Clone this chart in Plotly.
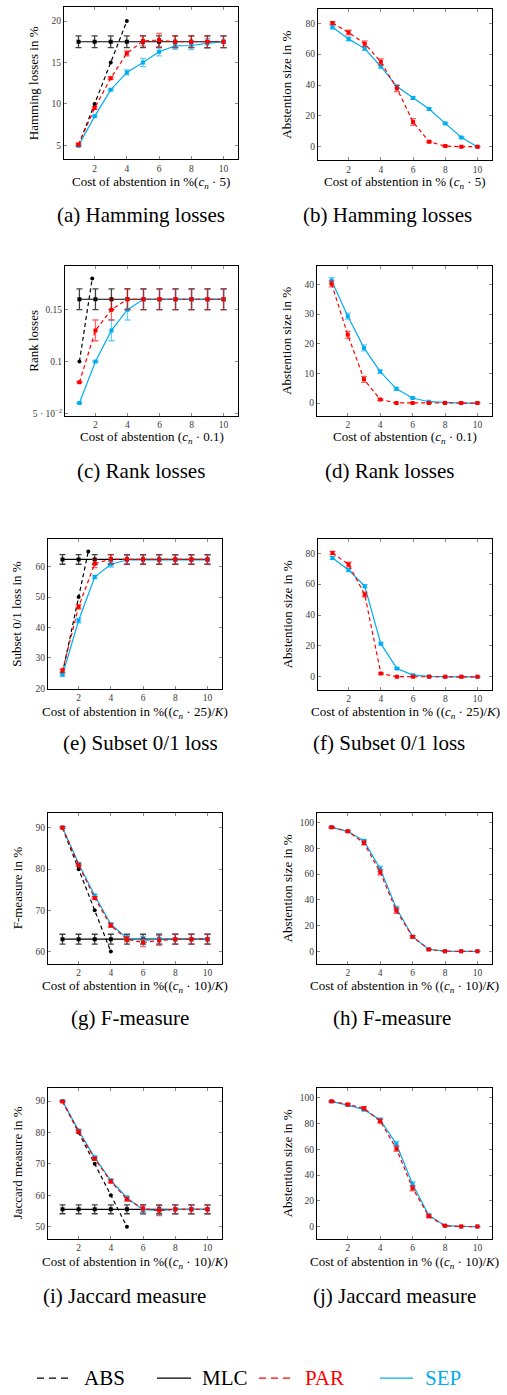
import plotly.graph_objects as go

W, H = 507, 1395
FONT = "Liberation Serif"
BLACK = "#000000"
RED = "#ff0000"
CYAN = "#00aeef"

X = [1, 2, 3, 4, 5, 6, 7, 8, 9, 10]

# ---------------- Hamming loss ----------------
ham_abs_x = [1, 2, 3, 4]
ham_abs = [5, 10, 15, 20]
ham_mlc = [17.5, 17.5, 17.5, 17.5, 17.5, 17.5, 17.5, 17.5, 17.5, 17.5]
ham_mlc_err = [0.7, 0.7, 0.7, 0.7, 0.7, 0.7, 0.7, 0.7, 0.7, 0.7]
ham_par = [5.1, 9.5, 13.1, 16.1, 17.6, 17.7, 17.5, 17.5, 17.5, 17.5]
ham_par_err = [0.15, 0.15, 0.15, 0.3, 0.6, 0.8, 0.7, 0.7, 0.7, 0.7]
ham_sep = [4.95, 8.5, 11.7, 13.8, 15.0, 16.3, 17.0, 17.05, 17.3, 17.5]
ham_sep_err = [0.1, 0.1, 0.1, 0.3, 0.5, 0.5, 0.4, 0.5, 0.6, 0.7]

ham_abst_par = [80.2, 74.0, 66.8, 55.0, 37.7, 16.0, 3.2, 0.4, 0.0, 0.0]
ham_abst_par_err = [0.8, 1.5, 1.8, 2.0, 2.0, 2.2, 0.5, 0.3, 0.2, 0.0]
ham_abst_sep = [77.4, 69.9, 63.6, 52.0, 39.0, 31.5, 24.4, 15.1, 6.0, 0.0]
ham_abst_sep_err = [1.0, 1.2, 1.2, 1.0, 0.8, 0.8, 0.8, 0.6, 0.5, 0.0]

# ---------------- Rank loss ----------------
rank_abs_x = [1, 1.8]
rank_abs = [0.10, 0.18]
rank_mlc = [0.16, 0.16, 0.16, 0.16, 0.16, 0.16, 0.16, 0.16, 0.16, 0.16]
rank_mlc_err = [0.01, 0.01, 0.01, 0.01, 0.01, 0.01, 0.01, 0.01, 0.01, 0.01]
rank_par = [0.08, 0.13, 0.15, 0.16, 0.16, 0.16, 0.16, 0.16, 0.16, 0.16]
rank_par_err = [0.0005, 0.01, 0.01, 0.01, 0.01, 0.01, 0.01, 0.01, 0.01, 0.01]
rank_sep = [0.06, 0.10, 0.13, 0.15, 0.16, 0.16, 0.16, 0.16, 0.16, 0.16]
rank_sep_err = [0.0005, 0.0005, 0.01, 0.01, 0.01, 0.01, 0.01, 0.01, 0.01, 0.01]

rank_abst_par = [40.2, 23.0, 8.0, 1.2, 0.05, 0.0, 0.0, 0.0, 0.0, 0.0]
rank_abst_par_err = [1.0, 1.2, 1.0, 0.3, 0.0, 0.0, 0.0, 0.0, 0.0, 0.0]
rank_abst_sep = [41.3, 29.3, 18.6, 10.6, 4.8, 1.7, 0.45, 0.1, 0.0, 0.0]
rank_abst_sep_err = [1.0, 1.0, 1.0, 0.6, 0.4, 0.3, 0.1, 0.0, 0.0, 0.0]

# ---------------- Subset 0/1 loss ----------------
sub_abs_x = [1, 2, 2.6]
sub_abs = [25, 50, 65]
sub_mlc = [62.4, 62.4, 62.4, 62.4, 62.4, 62.4, 62.4, 62.4, 62.4, 62.4]
sub_mlc_err = [1.6, 1.6, 1.6, 1.6, 1.6, 1.6, 1.6, 1.6, 1.6, 1.6]
sub_par = [25.8, 46.8, 61.0, 62.5, 62.4, 62.4, 62.4, 62.4, 62.4, 62.4]
sub_par_err = [0.5, 0.7, 1.3, 1.5, 1.6, 1.6, 1.6, 1.6, 1.6, 1.6]
sub_sep = [24.4, 42.3, 56.6, 60.8, 62.2, 62.2, 62.2, 62.2, 62.2, 62.2]
sub_sep_err = [0.4, 0.8, 0.5, 0.9, 1.5, 1.5, 1.5, 1.5, 1.5, 1.5]

sub_abst_par = [80.2, 72.7, 53.3, 2.2, 0.1, 0.0, 0.0, 0.0, 0.0, 0.0]
sub_abst_par_err = [1.0, 1.5, 1.5, 0.5, 0.0, 0.0, 0.0, 0.0, 0.0, 0.0]
sub_abst_sep = [77.0, 69.2, 58.7, 21.5, 5.4, 1.1, 0.3, 0.0, 0.0, 0.0]
sub_abst_sep_err = [1.0, 1.0, 1.0, 0.8, 0.5, 0.3, 0.1, 0.0, 0.0, 0.0]

# ---------------- F-measure ----------------
f_abs_x = [1, 2, 3, 4]
f_abs = [90, 80, 70, 60]
f_mlc = [63.0, 63.0, 63.0, 63.0, 63.0, 63.0, 63.0, 63.0, 63.0, 63.0]
f_mlc_err = [1.2, 1.2, 1.2, 1.2, 1.2, 1.2, 1.2, 1.2, 1.2, 1.2]
f_par = [90.1, 81.0, 73.0, 66.3, 63.0, 62.2, 62.7, 63.0, 63.0, 63.0]
f_par_err = [0.2, 0.3, 0.3, 0.4, 0.6, 1.0, 1.2, 1.2, 1.2, 1.2]
f_sep = [90.1, 81.3, 73.6, 66.6, 63.3, 62.7, 63.0, 63.0, 63.0, 63.0]
f_sep_err = [0.2, 0.3, 0.3, 0.4, 0.6, 1.0, 1.2, 1.2, 1.2, 1.2]

f_abst_par = [96.4, 93.3, 84.3, 61.5, 31.5, 11.3, 1.4, 0.1, 0.0, 0.0]
f_abst_par_err = [0.5, 0.6, 1.5, 2.0, 2.0, 0.8, 0.3, 0.0, 0.0, 0.0]
f_abst_sep = [96.4, 93.3, 85.8, 64.2, 33.5, 11.4, 1.6, 0.1, 0.0, 0.0]
f_abst_sep_err = [0.5, 0.6, 1.2, 2.0, 1.5, 0.8, 0.3, 0.0, 0.0, 0.0]

# ---------------- Jaccard measure ----------------
j_abs_x = [1, 2, 3, 4, 5]
j_abs = [90, 80, 70, 60, 50]
j_mlc = [55.5, 55.5, 55.5, 55.5, 55.5, 55.5, 55.5, 55.5, 55.5, 55.5]
j_mlc_err = [1.4, 1.4, 1.4, 1.4, 1.4, 1.4, 1.4, 1.4, 1.4, 1.4]
j_par = [89.9, 80.3, 71.6, 64.4, 58.7, 55.8, 55.1, 55.5, 55.5, 55.5]
j_par_err = [0.2, 0.4, 0.5, 0.5, 0.6, 1.2, 1.6, 1.4, 1.4, 1.4]
j_sep = [90.0, 80.6, 72.0, 64.7, 59.2, 55.4, 55.2, 55.5, 55.5, 55.5]
j_sep_err = [0.2, 0.4, 0.5, 0.5, 0.6, 1.2, 1.4, 1.4, 1.4, 1.4]

j_abst_par = [97.2, 94.8, 91.8, 81.8, 60.5, 29.8, 8.0, 0.6, 0.1, 0.0]
j_abst_par_err = [0.5, 0.8, 1.2, 1.5, 2.2, 2.0, 1.0, 0.3, 0.0, 0.0]
j_abst_sep = [97.0, 94.3, 90.8, 82.8, 64.0, 32.8, 8.8, 0.7, 0.1, 0.0]
j_abst_sep_err = [0.5, 0.8, 1.2, 1.5, 2.2, 2.0, 1.0, 0.3, 0.0, 0.0]

# ---------------- tick labels ----------------
x_ticks = [2, 4, 6, 8, 10]
x_ticklabels = ["2", "4", "6", "8", "10"]
rank_ticks = [0.05, 0.1, 0.15]
rank_ticklabels = ["5 · 10<sup>−2</sup>", "0.1", "0.15"]

XL_HAM_L = "Cost of abstention in %(<i>c<sub>n</sub></i> · 5)"
XL_HAM_R = "Cost of abstention in % (<i>c<sub>n</sub></i> · 5)"
XL_RANK = "Cost of abstention (<i>c<sub>n</sub></i> · 0.1)"
XL_SUB_L = "Cost of abstention in %((<i>c<sub>n</sub></i> · 25)/<i>K</i>)"
XL_SUB_R = "Cost of abstention in % ((<i>c<sub>n</sub></i> · 25)/<i>K</i>)"
XL_F_L = "Cost of abstention in %((<i>c<sub>n</sub></i> · 10)/<i>K</i>)"
XL_F_R = "Cost of abstention in % ((<i>c<sub>n</sub></i> · 10)/<i>K</i>)"
ABST = "Abstention size in %"

# panel layout: box in pixels (left, right, top, bottom)
panels = [
    dict(box=(64, 238, 7, 160), yr=(3.3, 21.7), yt=[5, 10, 15, 20], ylab="Hamming losses in %",
         ylx=33, xlab=XL_HAM_L, xly=183, cap="(a) Hamming losses", capx=141, capy=216,
         abs=(ham_abs_x, ham_abs), mlc=(ham_mlc, ham_mlc_err),
         par=(ham_par, ham_par_err), sep=(ham_sep, ham_sep_err)),
    dict(box=(318, 492, 9, 161), yr=(-8.9, 89.3), yt=[0, 20, 40, 60, 80], ylab=ABST,
         ylx=287, xlab=XL_HAM_R, xly=183, cap="(b) Hamming losses", capx=387, capy=216,
         par=(ham_abst_par, ham_abst_par_err), sep=(ham_abst_sep, ham_abst_sep_err)),
    dict(box=(65, 238, 267, 417), yr=(0.048, 0.192), yt=rank_ticks, ytt=rank_ticklabels,
         ylab="Rank losses", ylx=34, xlab=XL_RANK, xly=439, cap="(c) Rank losses", capx=141, capy=473,
         abs=(rank_abs_x, rank_abs), mlc=(rank_mlc, rank_mlc_err),
         par=(rank_par, rank_par_err), sep=(rank_sep, rank_sep_err)),
    dict(box=(317, 492, 267, 417), yr=(-4.2, 46.2), yt=[0, 10, 20, 30, 40], ylab=ABST,
         ylx=287, xlab=XL_RANK, xly=439, cap="(d) Rank losses", capx=390, capy=473,
         par=(rank_abst_par, rank_abst_par_err), sep=(rank_abst_sep, rank_abst_sep_err)),
    dict(box=(48, 222, 541, 691), yr=(19.9, 69.1), yt=[20, 30, 40, 50, 60], ylab="Subset 0/1 loss in %",
         ylx=17, xlab=XL_SUB_L, xly=715, cap="(e) Subset 0/1 loss", capx=140, capy=746,
         abs=(sub_abs_x, sub_abs), mlc=(sub_mlc, sub_mlc_err),
         par=(sub_par, sub_par_err), sep=(sub_sep, sub_sep_err)),
    dict(box=(318, 492, 541, 692), yr=(-8.2, 89.2), yt=[0, 20, 40, 60, 80], ylab=ABST,
         ylx=287, xlab=XL_SUB_R, xly=715, cap="(f) Subset 0/1 loss", capx=389, capy=746,
         par=(sub_abst_par, sub_abst_par_err), sep=(sub_abst_sep, sub_abst_sep_err)),
    dict(box=(48, 222, 816, 967), yr=(57.1, 93.6), yt=[60, 70, 80, 90], ylab="F-measure in %",
         ylx=17, xlab=XL_F_L, xly=990, cap="(g) F-measure", capx=130, capy=1022,
         abs=(f_abs_x, f_abs), mlc=(f_mlc, f_mlc_err),
         par=(f_par, f_par_err), sep=(f_sep, f_sep_err)),
    dict(box=(317, 492, 816, 967), yr=(-9.5, 107.5), yt=[0, 20, 40, 60, 80, 100], ylab=ABST,
         ylx=287, xlab=XL_F_R, xly=990, cap="(h) F-measure", capx=392, capy=1022,
         par=(f_abst_par, f_abst_par_err), sep=(f_abst_sep, f_abst_sep_err)),
    dict(box=(48, 222, 1092, 1243), yr=(46.2, 94.15), yt=[50, 60, 70, 80, 90], ylab="Jaccard measure in %",
         ylx=17, xlab=XL_F_L, xly=1267, cap="(i) Jaccard measure", capx=124, capy=1301,
         abs=(j_abs_x, j_abs), mlc=(j_mlc, j_mlc_err),
         par=(j_par, j_par_err), sep=(j_sep, j_sep_err)),
    dict(box=(317, 492, 1092, 1243), yr=(-9.3, 107.5), yt=[0, 20, 40, 60, 80, 100], ylab=ABST,
         ylx=287, xlab=XL_F_R, xly=1267, cap="(j) Jaccard measure", capx=394, capy=1301,
         par=(j_abst_par, j_abst_par_err), sep=(j_abst_sep, j_abst_sep_err)),
]


def fx(px):
    return px / W


def fy(py):
    return 1 - py / H


fig = go.Figure()
annotations = []
layout = {}


def add_series(xs, ys, err, color, err_color, dash, symbol, xa, ya):
    tr = go.Scatter(
        x=xs, y=ys, mode="lines+markers", xaxis=xa, yaxis=ya, showlegend=False,
        line=dict(color=color, width=1.2, dash=dash),
        marker=dict(symbol=symbol, size=4, color=color, line=dict(width=0)),
        hoverinfo="skip",
    )
    if err is not None:
        tr.error_y = dict(type="data", array=err, visible=True, color=err_color,
                          thickness=1.3, width=3)
    fig.add_trace(tr)


for i, p in enumerate(panels, start=1):
    sfx = "" if i == 1 else str(i)
    xa, ya = "x" + sfx, "y" + sfx
    l, r, t, b = p["box"]
    common = dict(showline=True, linecolor=BLACK, linewidth=1, mirror="allticks",
                  ticks="inside", ticklen=3, tickwidth=0.8, tickcolor="#8a8a8a",
                  showgrid=False, zeroline=False,
                  tickfont=dict(family=FONT, size=9.5, color="#3a3a3a"))
    layout["xaxis" + sfx] = dict(domain=[fx(l), fx(r)], anchor=ya, range=[0.1, 10.9],
                                 tickmode="array", tickvals=x_ticks, ticktext=x_ticklabels, **common)
    yax = dict(domain=[fy(b), fy(t)], anchor=xa, range=list(p["yr"]),
               tickmode="array", tickvals=p["yt"], **common)
    if "ytt" in p:
        yax["ticktext"] = p["ytt"]
    layout["yaxis" + sfx] = yax

    if "mlc" in p:
        add_series(X, p["mlc"][0], p["mlc"][1], BLACK, "rgba(0,0,0,0.75)", "solid", "square", xa, ya)
    if "abs" in p:
        add_series(p["abs"][0], p["abs"][1], None, BLACK, None, "4px,3px", "circle", xa, ya)
    add_series(X, p["sep"][0], p["sep"][1], CYAN, "rgba(0,174,239,0.6)", "solid", "square", xa, ya)
    add_series(X, p["par"][0], p["par"][1], RED, "rgba(255,0,0,0.6)", "4px,3px", "square", xa, ya)

    # axis titles and caption
    annotations.append(dict(text=p["ylab"], x=fx(p["ylx"]), y=fy((t + b) / 2), xref="paper", yref="paper",
                            textangle=-90, showarrow=False, xanchor="center", yanchor="middle",
                            font=dict(family=FONT, size=13, color=BLACK)))
    annotations.append(dict(text=p["xlab"], x=fx((l + r) / 2), y=fy(p["xly"]), xref="paper", yref="paper",
                            showarrow=False, xanchor="center", yanchor="middle",
                            font=dict(family=FONT, size=13, color=BLACK)))
    annotations.append(dict(text=p["cap"], x=fx(p["capx"]), y=fy(p["capy"]), xref="paper", yref="paper",
                            showarrow=False, xanchor="center", yanchor="middle",
                            font=dict(family=FONT, size=21, color=BLACK)))

# shared legend along the bottom
legend_items = [
    ("ABS", BLACK, "7px,5px", 37, 70, 82),
    ("MLC", BLACK, "solid", 157, 191, 200),
    ("PAR", RED, "7px,5px", 259, 293, 303),
    ("SEP", CYAN, "solid", 380, 413, 423),
]
LEG_Y = 1383
shapes = []
for name, color, dash, x0, x1, tx in legend_items:
    shapes.append(dict(type="line", xref="paper", yref="paper", x0=fx(x0), x1=fx(x1),
                       y0=fy(LEG_Y), y1=fy(LEG_Y), line=dict(color=color, width=1.3, dash=dash)))
    annotations.append(dict(text=name, x=fx(tx), y=fy(LEG_Y), xref="paper", yref="paper",
                            showarrow=False, xanchor="left", yanchor="middle",
                            font=dict(family=FONT, size=21, color=color)))

fig.update_layout(
    width=W, height=H, autosize=False,
    margin=dict(l=0, r=0, t=0, b=0),
    paper_bgcolor="white", plot_bgcolor="white",
    showlegend=False,
    annotations=annotations, shapes=shapes,
    **layout,
)

fig.write_html("out.html")
